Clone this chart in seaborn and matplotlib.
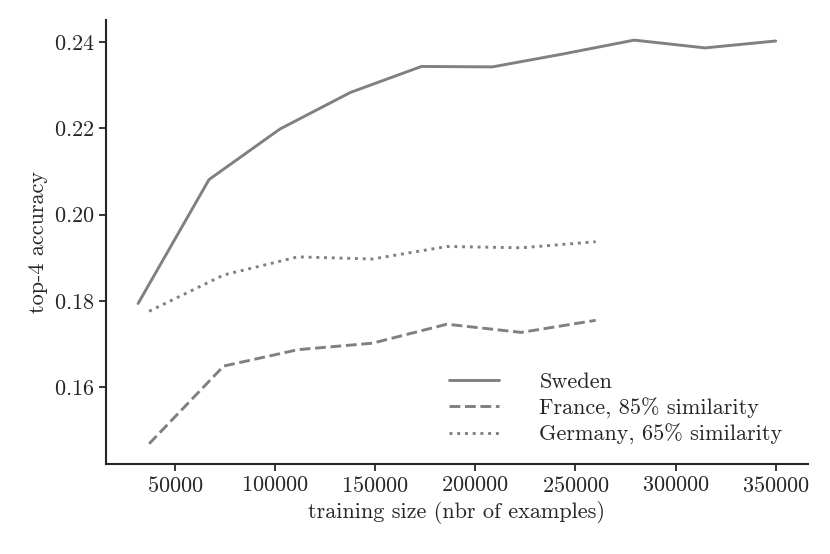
import pandas as pd
import matplotlib
matplotlib.use("Agg")
import matplotlib.pyplot as plt
import seaborn as sns

# values
sweden_size = [31600, 67000, 102400, 137700, 173100, 208500, 243900, 279300, 314700, 350000]
sweden_acc = [0.1794, 0.2081, 0.2198, 0.2283, 0.2343, 0.2342, 0.2372, 0.2404, 0.2386, 0.2402]

other_size = [37100, 74300, 111400, 148600, 185800, 222900, 260100]
france_acc = [0.1469, 0.1649, 0.1687, 0.1702, 0.1746, 0.1727, 0.1755]
germany_acc = [0.1776, 0.1860, 0.1902, 0.1897, 0.1926, 0.1923, 0.1937]

labels = ["Sweden", "France, 85% similarity", "Germany, 65% similarity"]

df = pd.concat([
    pd.DataFrame({"size": sweden_size, "acc": sweden_acc, "set": labels[0]}),
    pd.DataFrame({"size": other_size, "acc": france_acc, "set": labels[1]}),
    pd.DataFrame({"size": other_size, "acc": germany_acc, "set": labels[2]}),
])

sns.set_style("ticks")
plt.rcParams["font.family"] = ["cmr10", "DejaVu Serif"]
plt.rcParams["axes.formatter.use_mathtext"] = True

fig = plt.figure(figsize=(8.3, 5.54), dpi=100)
ax = fig.add_axes([0.128, 0.1625, 0.845, 0.8015])

sns.lineplot(data=df, x="size", y="acc", style="set", color="gray",
             dashes={labels[0]: "", labels[1]: (3.7, 1.6), labels[2]: (1, 1.65)},
             linewidth=2.1, ax=ax)

sns.despine(ax=ax)
ax.spines["left"].set_linewidth(1.5)
ax.spines["bottom"].set_linewidth(1.5)
ax.tick_params(width=1.3, length=5, labelsize=16)
ax.set_yticks([0.16, 0.18, 0.20, 0.22, 0.24])
ax.set_xticks([50000, 100000, 150000, 200000, 250000, 300000, 350000])
ax.set_xlabel("training size (nbr of examples)", fontsize=16)
ax.set_ylabel("top-4 accuracy", fontsize=16)
ax.legend(frameon=False, loc="lower right", bbox_to_anchor=(0.991, 0.0),
          fontsize=16, handlelength=2.25, borderaxespad=0.45,
          labelspacing=0.24, handletextpad=1.8)

fig.savefig("out.png", dpi=100)
